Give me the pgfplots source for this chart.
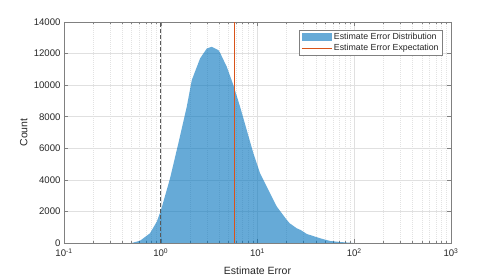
\documentclass[border=0pt]{standalone}
\usepackage{pgfplots}
\pgfplotsset{compat=1.18}
\usepackage{fontspec}
\setmainfont{Liberation Sans}
\definecolor{histblue}{RGB}{0,114,189}
\definecolor{morange}{RGB}{217,83,25}
\definecolor{gridc}{RGB}{224,224,224}
\definecolor{mgridc}{RGB}{226,226,226}
\definecolor{axc}{RGB}{128,128,128}
\definecolor{txt}{RGB}{38,38,38}
\begin{document}
\begin{tikzpicture}
\useasboundingbox (0,0) rectangle (498pt,278pt);
\begin{axis}[
  at={(64pt,35pt)}, anchor=south west,
  scale only axis, width=387pt, height=221pt,
  xmode=log, log basis x=10,
  xmin=0.1, xmax=1000, ymin=0, ymax=14000,
  xtick={0.1,1,10,100,1000},
  xticklabels={10\textsuperscript{-1},10\textsuperscript{0},10\textsuperscript{1},10\textsuperscript{2},10\textsuperscript{3}},
  minor xtick={0.2,0.3,0.4,0.5,0.6,0.7,0.8,0.9,2,3,4,5,6,7,8,9,20,30,40,50,60,70,80,90,200,300,400,500,600,700,800,900},
  ytick={0,2000,4000,6000,8000,10000,12000,14000},
  scaled y ticks=false,
  /pgf/number format/1000 sep={},
  /pgf/number format/assume math mode=true,
  xmajorgrids, xminorgrids, ymajorgrids,
  major grid style={gridc, line width=0.5pt},
  minor grid style={mgridc, dash pattern=on 0.5pt off 1.5pt, line width=0.4pt},
  axis line style={axc, line width=0.6pt},
  tick style={axc, line width=0.5pt},
  tick align=inside,
  major tick length=4pt, minor tick length=2pt,
  tick label style={font=\fontsize{9.6}{11}\selectfont, text=txt},
  xticklabel style={yshift=-2pt},
  xlabel={Estimate Error}, ylabel={Count},
  label style={font=\fontsize{10.5}{12}\selectfont, text=txt},
  xlabel style={at={(axis description cs:0.5,0)}, anchor=north, yshift=-20pt},
  ylabel style={at={(axis description cs:-0.085,0.5)}, anchor=south},
  legend style={at={(axis description cs:0.979,0.964)}, anchor=north east,
    draw=axc, fill=white, line width=0.5pt,
    font=\fontsize{8.8}{10}\selectfont, text=txt,
    inner xsep=2pt, inner ysep=1pt, row sep=-1pt},
  legend cell align=left,
]
\addplot[draw=none, fill=histblue, fill opacity=0.6,
  legend image code/.code={\fill[histblue, fill opacity=0.6] (0pt,-4.3pt) rectangle (30pt,4.3pt);}]
  coordinates {
  (0.501,0) (0.611,145) (0.774,613) (0.910,1350) (1.007,2090)
  (1.248,4100) (1.520,6310) (1.857,8630) (2.093,10320) (2.549,11690)
  (2.990,12320) (3.367,12430) (3.943,12220) (4.104,12050) (4.815,11160)
  (5.634,10000) (6.607,8630) (7.745,7150) (9.073,5680) (10.64,4410)
  (12.47,3560) (15.85,2300) (20.09,1460) (21.5,1250) (25.48,930) (28.0,820)
  (32.36,570) (34.99,505) (44.39,300) (56.35,127) (71.45,63) (97.4,0)
  } \closedcycle;
\addlegendentry{Estimate Error Distribution}
\addplot[morange, line width=0.9pt,
  legend image code/.code={\draw[morange, line width=0.9pt] (0pt,0pt) -- (30pt,0pt);}]
  coordinates {(5.77,0) (5.77,14000)};
\addlegendentry{Estimate Error Expectation}
\addplot[black!65, line width=1.4pt, dash pattern=on 4pt off 2pt, forget plot]
  coordinates {(1,0) (1,14000)};
\end{axis}
\end{tikzpicture}
\end{document}
